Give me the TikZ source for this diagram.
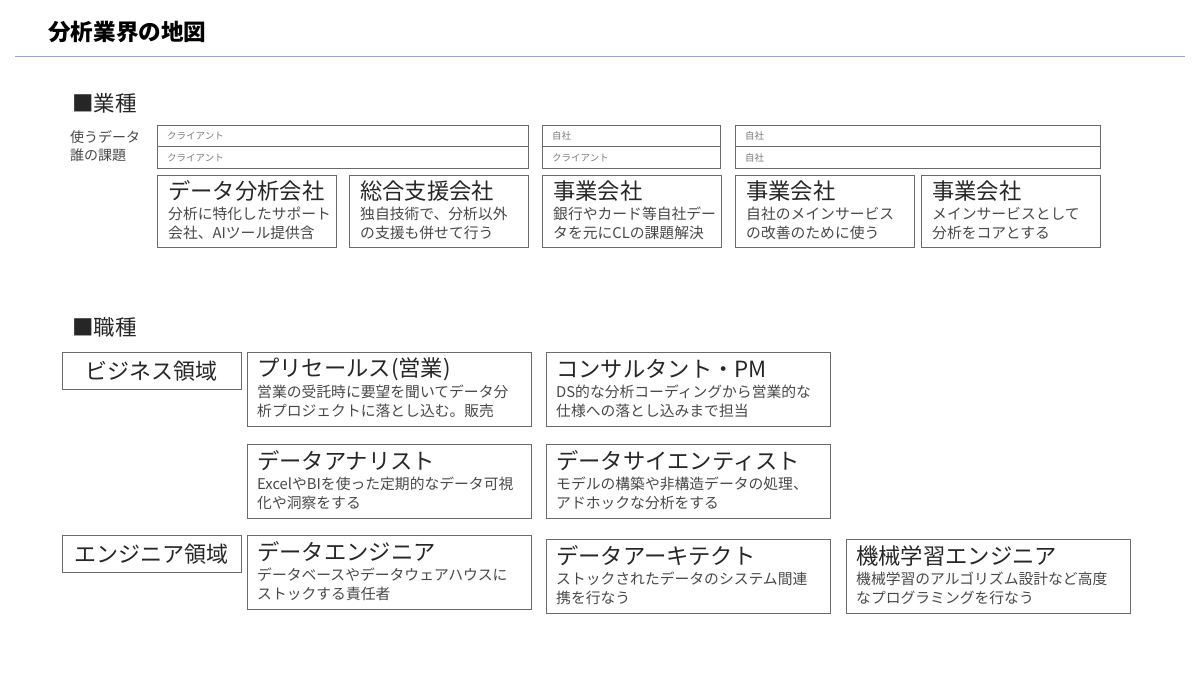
\documentclass[tikz,border=0pt]{standalone}
\usepackage{fontspec}
\setmainfont{Noto Sans CJK JP}
\usepackage{xcolor}

\definecolor{boxgray}{HTML}{6A6A6A}
\definecolor{txtdark}{HTML}{262626}
\definecolor{txtgray}{HTML}{474747}
\definecolor{txtlight}{HTML}{7A7A7A}
\definecolor{ruleblue}{HTML}{8EA9DB}

\begin{document}
\begin{tikzpicture}
  [x=1pt,y=-1pt,
   box/.style={draw=boxgray,line width=.8pt,anchor=north west,inner sep=0},
   head/.style={anchor=west,inner sep=0,text=txtdark,font=\fontsize{22.3}{26}\selectfont},
   desc/.style={anchor=north west,inner sep=0,align=left,text=txtgray,font=\fontsize{14.8}{19}\selectfont},
   small/.style={anchor=west,inner sep=0,text=txtlight,font=\fontsize{9.5}{11}\selectfont},
   section/.style={anchor=west,inner sep=0,text=txtdark,font=\fontsize{21.5}{24}\selectfont}]
  \useasboundingbox (0,0) rectangle (1200,674);

  % title
  \node[anchor=west,inner sep=0,font=\fontsize{22.6}{26}\selectfont\bfseries] (title) at (48,32) {分析業界の地図};
  \draw[ruleblue,line width=1pt] (15,57) -- (1185,57);

  % industries
  \node[section] (s1) at (72,103) {■業種};
  \node[anchor=north west,inner sep=0,align=left,text=txtgray,font=\fontsize{14}{18}\selectfont] (lab) at (70,130) {使うデータ\\誰の課題};

  \foreach \n/\x/\w/\a/\b in {r1/157/371/クライアント/クライアント,
                              r2/542/178/自社/クライアント,
                              r3/735/365/自社/自社}
  {
    \node[box,minimum width=\w,minimum height=43] (\n) at (\x,125) {};
    \draw[boxgray,line width=.8pt] (\n.west) -- (\n.east);
    \node[small] (\n-a) at ([xshift=10pt,yshift=-10.5pt]\n.north west) {\a};
    \node[small] (\n-b) at ([xshift=10pt,yshift=10.5pt]\n.south west) {\b};
  }

  \foreach \n/\x/\t/\d in {c1/157/{データ分析会社}/{分析に特化したサポート\\会社、AIツール提供含},
                           c2/349/{総合支援会社}/{独自技術で、分析以外\\の支援も併せて行う},
                           c3/542/{事業会社}/{銀行やカード等自社デー\\タを元にCLの課題解決},
                           c4/735/{事業会社}/{自社のメインサービス\\の改善のために使う},
                           c5/921/{事業会社}/{メインサービスとして\\分析をコアとする}}
  {
    \node[box,minimum width=179,minimum height=72] (\n) at (\x,175) {};
    \node[head] (\n-t) at ([xshift=11pt,yshift=-16pt]\n.north west) {\t};
    \node[desc] (\n-d) at ([xshift=11pt,yshift=-32pt]\n.north west) {\d};
  }

  % jobs
  \node[section] (s2) at (72,327) {■職種};
  \node[box,minimum width=179,minimum height=37,font=\fontsize{22}{26}\selectfont,text=txtdark] (biz) at (62,352) {ビジネス領域};
  \node[box,minimum width=179,minimum height=37,font=\fontsize{22}{26}\selectfont,text=txtdark] (eng) at (62,535) {エンジニア領域};

  \foreach \n/\x/\y/\t/\d in {j1/247/352/{プリセールス(営業)}/{営業の受託時に要望を聞いてデータ分\\析プロジェクトに落とし込む。販売},
                              j2/546/352/{コンサルタント・PM}/{DS的な分析コーディングから営業的な\\仕様への落とし込みまで担当},
                              j3/247/444/{データアナリスト}/{ExcelやBIを使った定期的なデータ可視\\化や洞察をする},
                              j4/546/444/{データサイエンティスト}/{モデルの構築や非構造データの処理、\\アドホックな分析をする},
                              j5/247/535/{データエンジニア}/{データベースやデータウェアハウスに\\ストックする責任者},
                              j6/546/539/{データアーキテクト}/{ストックされたデータのシステム間連\\携を行なう},
                              j7/846/539/{機械学習エンジニア}/{機械学習のアルゴリズム設計など高度\\なプログラミングを行なう}}
  {
    \node[box,minimum width=284,minimum height=74] (\n) at (\x,\y) {};
    \node[head] (\n-t) at ([xshift=10pt,yshift=-17pt]\n.north west) {\t};
    \node[desc] (\n-d) at ([xshift=10pt,yshift=-33pt]\n.north west) {\d};
  }

\end{tikzpicture}
\end{document}
